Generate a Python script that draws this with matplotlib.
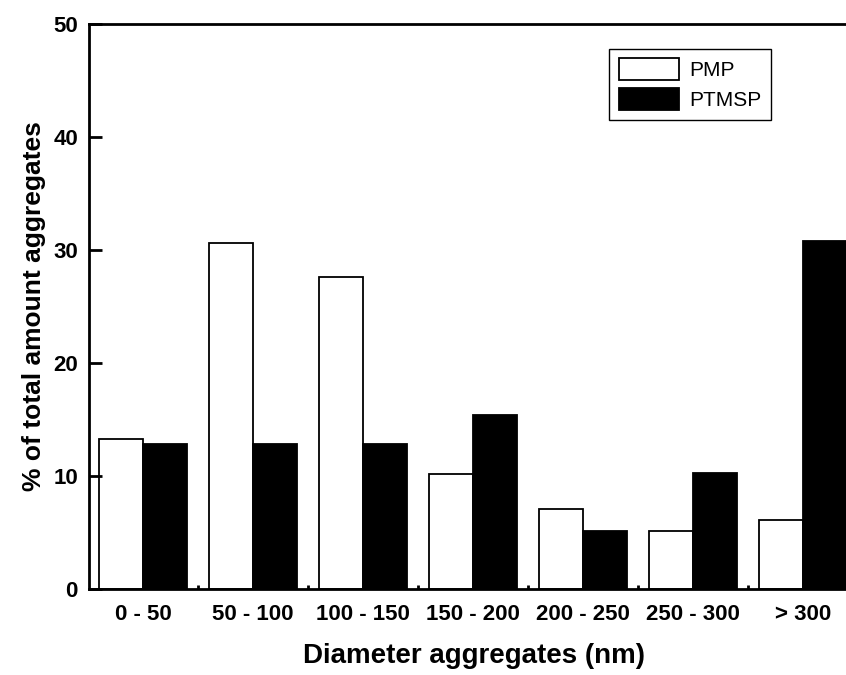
import matplotlib
matplotlib.use('Agg')
import matplotlib.pyplot as plt
import numpy as np

plt.rcParams['font.family'] = ['Liberation Sans', 'DejaVu Sans']

categories = ['0 - 50', '50 - 100', '100 - 150', '150 - 200', '200 - 250', '250 - 300', '> 300']
pmp = [13.3, 30.6, 27.6, 10.2, 7.1, 5.1, 6.1]
ptmsp = [12.8, 12.8, 12.8, 15.4, 5.1, 10.3, 30.8]

fig = plt.figure(figsize=(8.46, 6.75), dpi=100)
ax = fig.add_axes([0.1052, 0.1274, 0.909, 0.837])

x = np.arange(len(categories))
w = 0.4
ax.bar(x - w / 2, pmp, w, color='white', edgecolor='black', linewidth=1.3, label='PMP')
ax.bar(x + w / 2, ptmsp, w, color='black', edgecolor='black', linewidth=1.3, label='PTMSP')

ax.set_xlim(-0.49, 6.5)
ax.set_ylim(0, 50)
ax.set_yticks([0, 10, 20, 30, 40, 50])
ax.set_xticks(x)
ax.set_xticklabels(categories)
ax.set_xticks(np.arange(0.5, 6.5, 1), minor=True)

for s in ax.spines.values():
    s.set_linewidth(2)
ax.tick_params(axis='y', direction='in', length=9, width=2, pad=8,
               labelsize=16)
ax.tick_params(axis='x', which='major', length=0, pad=11, labelsize=16)
ax.tick_params(axis='x', which='minor', direction='in', length=3, width=2)
for lab in ax.get_xticklabels() + ax.get_yticklabels():
    lab.set_fontweight('bold')

ax.set_xlabel('Diameter aggregates (nm)', fontsize=20, fontweight='bold', labelpad=13)
ax.set_ylabel('% of total amount aggregates', fontsize=19, fontweight='bold', labelpad=5)

leg = ax.legend(loc='upper right', bbox_to_anchor=(771 / 846, 1 - 49 / 675),
                bbox_transform=fig.transFigure, fontsize=15, fancybox=False,
                edgecolor='black', framealpha=1, handlelength=2.9,
                handleheight=1.2, borderpad=0.45, labelspacing=0.4,
                handletextpad=0.5, borderaxespad=0)
leg.get_frame().set_linewidth(1)

fig.savefig('out.png', dpi=100)
